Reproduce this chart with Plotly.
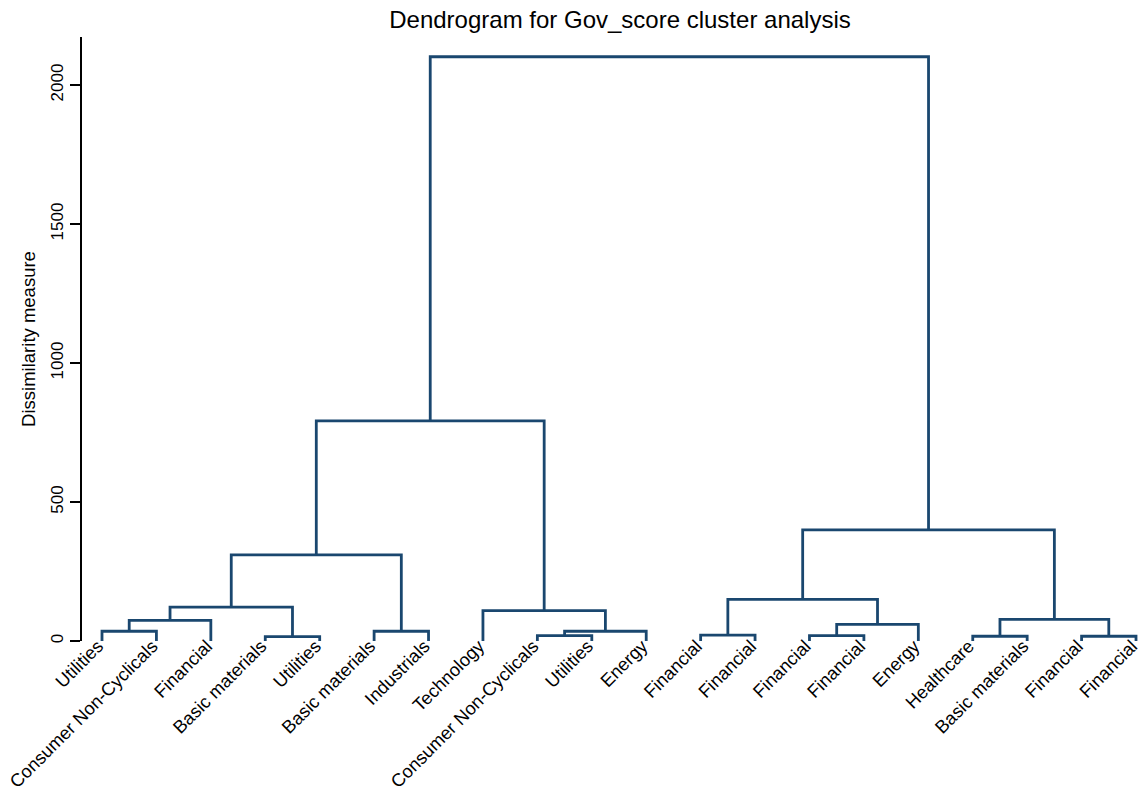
import plotly.graph_objects as go

# Leaf labels in dendrogram order (left to right)
leaf_labels = [
    "Utilities", "Consumer Non-Cyclicals", "Financial", "Basic materials", "Utilities",
    "Basic materials", "Industrials", "Technology", "Consumer Non-Cyclicals", "Utilities",
    "Energy", "Financial", "Financial", "Financial", "Financial",
    "Energy", "Healthcare", "Basic materials", "Financial", "Financial",
]

# Linkage: each merge joins cluster ids (leaves are 0..19, new clusters numbered from 20)
merge_left = [0, 20, 3, 21, 5, 23, 8, 26, 7, 25, 11, 13, 31, 30, 16, 18, 34, 33, 29]
merge_right = [1, 2, 4, 22, 6, 24, 9, 10, 27, 28, 12, 14, 15, 32, 17, 19, 35, 36, 37]
merge_height = [35, 74, 16, 122, 35, 310, 19, 35, 109, 792,
                21, 19, 60, 150, 17, 17, 78, 400, 2102]

yticks = [0, 500, 1000, 1500, 2000]

n_leaves = len(leaf_labels)
pos_x = {i: float(i) for i in range(n_leaves)}
pos_y = {i: 0.0 for i in range(n_leaves)}

xs, ys = [], []
for k, (a, b, h) in enumerate(zip(merge_left, merge_right, merge_height)):
    node = n_leaves + k
    xs += [pos_x[a], pos_x[a], pos_x[b], pos_x[b], None]
    ys += [pos_y[a], h, h, pos_y[b], None]
    pos_x[node] = (pos_x[a] + pos_x[b]) / 2
    pos_y[node] = h

fig = go.Figure()
fig.add_trace(go.Scatter(
    x=xs, y=ys, mode="lines",
    line=dict(color="rgb(26,71,111)", width=2.8),
    hoverinfo="skip", showlegend=False,
))

font_family = "Liberation Sans, Arial, sans-serif"

fig.update_layout(
    width=1142, height=791,
    margin=dict(l=82, r=0, t=37, b=150),
    paper_bgcolor="white", plot_bgcolor="white",
    font=dict(family=font_family, color="black"),
    title=dict(
        text="Dendrogram for Gov_score cluster analysis",
        font=dict(size=24, color="black"),
        x=620 / 1142, xref="container", xanchor="center",
        y=1 - 20 / 791, yref="container", yanchor="middle",
    ),
    xaxis=dict(
        range=[-0.3675, 19.11],
        tickmode="array",
        tickvals=list(range(n_leaves)),
        ticktext=leaf_labels,
        tickangle=-45,
        tickfont=dict(size=18.2),
        ticklabeloverflow="allow",
        ticklabelstandoff=-10,
        ticklabelshift=-4,
        automargin=False,
        showline=False, showgrid=False, zeroline=False, ticks="",
    ),
    yaxis=dict(
        range=[0, 2173],
        tickmode="array",
        tickvals=yticks,
        tickangle=-90,
        tickfont=dict(size=17),
        automargin=False,
        showline=True, linecolor="black", linewidth=1.5,
        ticks="outside", ticklen=10, tickwidth=1.5, tickcolor="black",
        showgrid=False, zeroline=False,
        title=dict(text="Dissimilarity measure", font=dict(size=18.5), standoff=8),
    ),
)

fig.write_html("out.html")
